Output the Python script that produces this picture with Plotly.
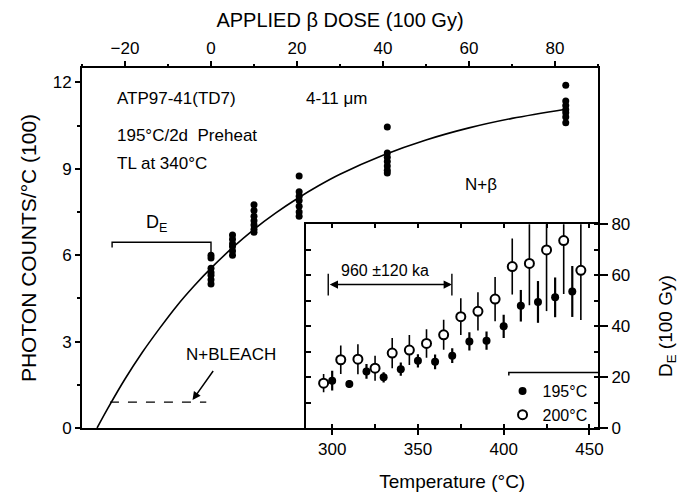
import plotly.graph_objects as go

# ---------------- Main panel data (applied beta dose vs photon counts) ----------------
dose_0 = [0, 0, 0, 0, 0, 0, 0]
counts_0 = [5.0, 5.15, 5.3, 5.4, 5.55, 5.9, 6.0]
dose_5 = [5, 5, 5, 5, 5, 5]
counts_5 = [6.0, 6.15, 6.3, 6.4, 6.55, 6.7]
dose_10 = [10, 10, 10, 10, 10, 10, 10]
counts_10 = [6.8, 6.9, 7.05, 7.2, 7.35, 7.55, 7.75]
dose_20 = [20.5, 20.5, 20.5, 20.5, 20.5, 20.5, 20.5]
counts_20 = [7.35, 7.5, 7.7, 7.9, 8.05, 8.2, 8.75]
dose_41 = [41, 41, 41, 41, 41, 41, 41]
counts_41 = [8.85, 8.95, 9.1, 9.25, 9.4, 9.55, 10.45]
dose_82 = [82.5, 82.5, 82.5, 82.5, 82.5, 82.5, 82.5]
counts_82 = [10.6, 10.8, 10.95, 11.05, 11.2, 11.35, 11.9]

# fitted growth curve (N+beta)
curve_dose = [-26.5, -24, -20, -16, -12, -8, -4, 0, 5, 10, 15, 20, 25, 30, 40, 50, 60, 70, 82.5]
curve_counts = [0, 0.68, 1.70, 2.62, 3.45, 4.23, 4.92, 5.55, 6.26, 6.90, 7.46, 7.96, 8.41, 8.81, 9.47, 10.0, 10.42, 10.75, 11.07]

# N+BLEACH level
bleach_dose = [-23.5, -1.1]
bleach_counts = [0.9, 0.9]

# equivalent dose estimate (100 Gy)
de_estimate = 23.0

# ---------------- Inset data (temperature vs D_E) ----------------
temp_195 = [300, 310, 320, 330, 340, 350, 360, 370, 380, 390, 400, 410, 420, 430, 440]
de_195 = [18.6, 17.3, 22.2, 19.9, 23.1, 26.4, 26.0, 28.4, 34.0, 34.3, 39.9, 48.0, 49.5, 51.3, 53.6]
err_195 = [3.9, 1.5, 2.9, 2.0, 2.6, 2.6, 2.9, 2.9, 3.6, 3.6, 4.6, 6.2, 8.2, 7.8, 10.0]

temp_200 = [295, 305, 315, 325, 335, 345, 355, 365, 375, 385, 395, 405, 415, 425, 435, 445]
de_200 = [17.6, 26.8, 27.0, 23.5, 29.4, 30.6, 33.2, 36.6, 43.7, 45.8, 50.6, 63.4, 64.6, 69.9, 73.6, 61.9]
err_200 = [3.6, 5.6, 5.9, 4.9, 5.9, 5.9, 5.6, 5.9, 7.2, 7.5, 8.7, 11.0, 16.4, 24.0, 21.0, 19.5]

plateau_temp = [297.7, 369.8]
plateau_de = 56.3

FONT = "Liberation Sans, Arial, Helvetica, sans-serif"
BLACK = "black"

fig = go.Figure()

pt_dose = dose_0 + dose_5 + dose_10 + dose_20 + dose_41 + dose_82
pt_counts = counts_0 + counts_5 + counts_10 + counts_20 + counts_41 + counts_82

fig.add_trace(go.Scatter(x=curve_dose, y=curve_counts, mode="lines",
                         line=dict(color=BLACK, width=1.6, shape="spline"),
                         xaxis="x", yaxis="y", showlegend=False, hoverinfo="skip"))
fig.add_trace(go.Scatter(x=bleach_dose, y=bleach_counts, mode="lines",
                         line=dict(color=BLACK, width=1.4, dash="dash"),
                         xaxis="x", yaxis="y", showlegend=False, hoverinfo="skip"))
fig.add_trace(go.Scatter(x=pt_dose, y=pt_counts, mode="markers",
                         marker=dict(color=BLACK, size=7),
                         xaxis="x", yaxis="y", showlegend=False))

# inset traces
fig.add_trace(go.Scatter(x=temp_195, y=de_195, mode="markers", name="195°C",
                         error_y=dict(type="data", array=err_195, color=BLACK, thickness=2.2, width=0),
                         marker=dict(symbol="circle", color=BLACK, size=8),
                         xaxis="x3", yaxis="y3"))
fig.add_trace(go.Scatter(x=temp_200, y=de_200, mode="markers", name="200°C",
                         error_y=dict(type="data", array=err_200, color=BLACK, thickness=1.6, width=0),
                         marker=dict(symbol="circle", color="white", size=9,
                                     line=dict(color=BLACK, width=2)),
                         xaxis="x3", yaxis="y3"))
# helper trace for the inner tick overlay axes
fig.add_trace(go.Scatter(x=[], y=[], xaxis="x4", yaxis="y4", showlegend=False, hoverinfo="skip"))

axis_common = dict(showgrid=False, zeroline=False, showline=True, linecolor=BLACK,
                   linewidth=2, tickcolor=BLACK, tickwidth=1.5,
                   tickfont=dict(size=17, family=FONT, color=BLACK))

inset_x_dom = [0.435, 1.0]
inset_y_dom = [0.0, 0.566]

fig.update_layout(
    width=685, height=501,
    margin=dict(l=82, r=84, t=68, b=70),
    paper_bgcolor="white", plot_bgcolor="white",
    font=dict(family=FONT, size=16, color=BLACK),
    xaxis=dict(domain=[0, 1], anchor="y", side="top", range=[-30, 90],
               tick0=0, dtick=20, ticks="outside", ticklen=5,
               minor=dict(dtick=10, ticks="outside", ticklen=2, tickwidth=1.5, tickcolor=BLACK),
               mirror=True,
               title=dict(text="APPLIED β DOSE (100 Gy)", font=dict(size=20), standoff=6),
               **axis_common),
    yaxis=dict(domain=[0, 1], anchor="x", range=[0, 12.5],
               tick0=0, dtick=3, ticks="outside", ticklen=5,
               minor=dict(dtick=1.5, ticks="outside", ticklen=3, tickwidth=1.5, tickcolor=BLACK),
               mirror=True,
               title=dict(text="PHOTON COUNTS/°C (100)", font=dict(size=21), standoff=10),
               **axis_common),
    xaxis3=dict(domain=inset_x_dom, anchor="y3", range=[285, 455],
                tick0=300, dtick=50, ticks="outside", ticklen=5,
                minor=dict(dtick=25, ticks="inside", ticklen=4, tickwidth=1.5, tickcolor=BLACK),
                mirror=True,
                title=dict(text="Temperature (°C)", font=dict(size=19), standoff=16),
                **axis_common),
    yaxis3=dict(domain=inset_y_dom, anchor="x3", side="right", range=[0, 80],
                tick0=0, dtick=20, ticks="outside", ticklen=8,
                minor=dict(dtick=10, ticks="inside", ticklen=4, tickwidth=1.5, tickcolor=BLACK),
                mirror=True,
                title=dict(text="D<sub>E</sub> (100 Gy)", font=dict(size=19), standoff=29),
                **axis_common),
    xaxis4=dict(overlaying="x3", anchor="y3", side="top", range=[285, 455],
                tick0=300, dtick=25, ticks="inside", ticklen=4, tickwidth=1.5, tickcolor=BLACK,
                showticklabels=False, showline=False, showgrid=False, zeroline=False),
    yaxis4=dict(overlaying="y3", anchor="x3", side="left", range=[0, 80],
                tick0=0, dtick=10, ticks="inside", ticklen=5, tickwidth=1.5, tickcolor=BLACK,
                showticklabels=False, showline=False, showgrid=False, zeroline=False),
    legend=dict(x=0.815, y=0.15, xanchor="left", yanchor="top",
                bgcolor="rgba(0,0,0,0)", borderwidth=0,
                font=dict(size=16, family=FONT, color=BLACK),
                itemwidth=30, tracegroupgap=0),
    showlegend=True,
)

ann = []
def txt(x, y, t, xref="x", yref="y", size=17, xanchor="left"):
    ann.append(dict(x=x, y=y, xref=xref, yref=yref, text=t, showarrow=False,
                    xanchor=xanchor, yanchor="middle", font=dict(size=size, family=FONT, color=BLACK)))

txt(-22.4, 11.45, "ATP97-41(TD7)")
txt(21.6, 11.45, "4-11 μm")
txt(-22.4, 10.15, "195°C/2d  Preheat")
txt(-22.4, 9.2, "TL at 340°C")
txt(58.6, 8.45, "N+β")
txt(-12.6, 7.1, "D<sub>E</sub>", size=18, xanchor="center")
txt(4.7, 2.55, "N+BLEACH", xanchor="center")
txt(330.6, 61.8, "960 ±120 ka", xref="x3", yref="y3", size=16, xanchor="center")

# N+BLEACH arrow
ann.append(dict(x=-4.3, y=0.97, ax=0.75, ay=2.03, xref="x", yref="y", axref="x", ayref="y",
                text="", showarrow=True, arrowhead=2, arrowsize=1.1, arrowwidth=1.5, arrowcolor=BLACK))
# plateau double arrow
ann.append(dict(x=plateau_temp[1], y=plateau_de, ax=plateau_temp[0], ay=plateau_de,
                xref="x3", yref="y3", axref="x3", ayref="y3",
                text="", showarrow=True, arrowhead=2, startarrowhead=2, arrowside="end+start",
                arrowsize=1.1, arrowwidth=1.5, arrowcolor=BLACK))
fig.update_layout(annotations=ann)

shapes = [
    # D_E bracket
    dict(type="path", xref="x", yref="y",
         path=f"M {-de_estimate},6.27 L {-de_estimate},6.45 L 0,6.45 L 0,6.05",
         line=dict(color=BLACK, width=1.4)),
    # plateau end bars
    dict(type="line", xref="x3", yref="y3", x0=plateau_temp[0], x1=plateau_temp[0],
         y0=plateau_de - 4.3, y1=plateau_de + 4.3, line=dict(color=BLACK, width=1.4)),
    dict(type="line", xref="x3", yref="y3", x0=plateau_temp[1], x1=plateau_temp[1],
         y0=plateau_de - 4.3, y1=plateau_de + 4.3, line=dict(color=BLACK, width=1.4)),
    # legend box top edge
    dict(type="path", xref="x3", yref="y3", path="M 403,20.6 L 403,21.8 L 455,21.8",
         line=dict(color=BLACK, width=1.5)),
]
fig.update_layout(shapes=shapes)

fig.write_html("out.html", config={"displayModeBar": False},
               post_script="document.body.style.margin='0';document.body.style.padding='0';")
